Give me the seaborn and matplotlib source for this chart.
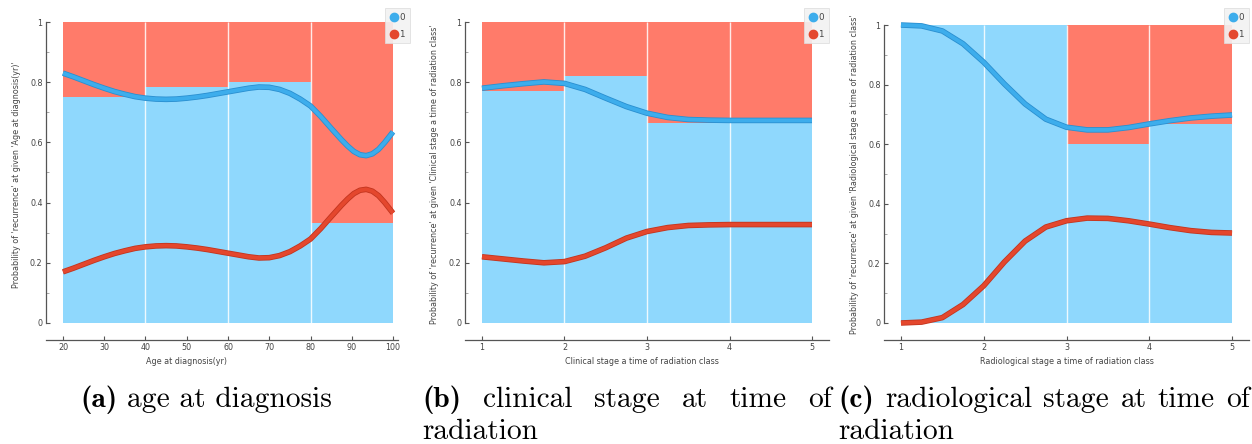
import numpy as np
import matplotlib
matplotlib.use("Agg")
import matplotlib.pyplot as plt
import matplotlib.patheffects as pe
from matplotlib.lines import Line2D
import seaborn as sns

# ---------------- data ----------------
# panel (a): age at diagnosis
a_edges = [20, 40, 60, 80, 100]
a_p0 = [0.75, 0.785, 0.80, 0.333]
a_x = [20, 22.5, 25, 27.5, 30, 32.5, 35, 37.5, 40, 42.5, 45, 47.5, 50, 52.5, 55,
       57.5, 60, 62.5, 65, 67.5, 70, 72.5, 75, 77.5, 80, 82.5, 85, 87.5, 89, 90.5,
       92, 93.5, 95, 96.5, 98, 100]
a_c0 = [0.830, 0.818, 0.805, 0.792, 0.780, 0.769, 0.760, 0.752, 0.747, 0.744,
        0.743, 0.744, 0.747, 0.751, 0.756, 0.762, 0.768, 0.774, 0.780, 0.784,
        0.783, 0.776, 0.763, 0.744, 0.721, 0.686, 0.647, 0.609, 0.588, 0.570,
        0.559, 0.556, 0.562, 0.577, 0.600, 0.635]
a_c1 = [0.170, 0.182, 0.195, 0.208, 0.220, 0.231, 0.240, 0.248, 0.253, 0.256,
        0.257, 0.256, 0.253, 0.249, 0.244, 0.238, 0.232, 0.226, 0.220, 0.216,
        0.217, 0.224, 0.237, 0.256, 0.279, 0.314, 0.353, 0.391, 0.412, 0.430,
        0.441, 0.444, 0.438, 0.423, 0.400, 0.365]

# panel (b): clinical stage
b_edges = [1, 2, 3, 4, 5]
b_p0 = [0.770, 0.819, 0.666, 0.666]
b_x = [1.0, 1.25, 1.5, 1.75, 2.0, 2.25, 2.5, 2.75, 3.0, 3.25, 3.5, 3.75, 4.0,
       4.25, 4.5, 4.75, 5.0]
b_c0 = [0.780, 0.788, 0.795, 0.801, 0.796, 0.776, 0.747, 0.719, 0.697, 0.683,
        0.676, 0.674, 0.673, 0.673, 0.673, 0.673, 0.673]
b_c1 = [0.220, 0.213, 0.206, 0.200, 0.204, 0.222, 0.250, 0.282, 0.304, 0.317,
        0.324, 0.326, 0.327, 0.327, 0.327, 0.327, 0.327]

# panel (c): radiological stage
c_edges = [1, 2, 3, 4, 5]
c_p0 = [1.0, 1.0, 0.601, 0.667]
c_x = [1.0, 1.25, 1.5, 1.75, 2.0, 2.25, 2.5, 2.75, 3.0, 3.25, 3.5, 3.75, 4.0,
       4.25, 4.5, 4.75, 5.0]
c_c0 = [1.000, 0.997, 0.980, 0.937, 0.875, 0.802, 0.735, 0.684, 0.657, 0.648,
        0.648, 0.656, 0.668, 0.679, 0.688, 0.694, 0.698]
c_c1 = [0.000, 0.003, 0.018, 0.062, 0.125, 0.205, 0.275, 0.322, 0.343, 0.352,
        0.351, 0.343, 0.332, 0.320, 0.310, 0.304, 0.302]

a_xticks = [20, 30, 40, 50, 60, 70, 80, 90, 100]
bc_xticks = [1, 2, 3, 4, 5]
y_ticks = [0, 0.2, 0.4, 0.6, 0.8, 1]
y_ticklabels = ["0", "0.2", "0.4", "0.6", "0.8", "1"]
legend_labels = ["0", "1"]

xlabels = ["Age at diagnosis(yr)",
           "Clinical stage a time of radiation class",
           "Radiological stage a time of radiation class"]
ylabels = ["Probability of 'recurrence' at given 'Age at diagnosis(yr)'",
           "Probability of 'recurrence' at given 'Clinical stage a time of radiation class'",
           "Probability of 'recurrence' at given 'Radiological stage a time of radiation class'"]

caption_tags = ["(a)", "(b)", "(c)"]
caption_line1 = ["age at diagnosis", "clinical stage at time of",
                 "radiological stage at time of"]
caption_line2 = ["", "radiation", "radiation"]

# ---------------- style ----------------
sns.set_theme(style="white")
plt.rcParams["font.family"] = ["DejaVu Sans"]

BAR_BLUE = "#8fd8fd"
BAR_RED = "#ff7b6a"
LINE_BLUE = "#3dadec"
EDGE_BLUE = "#2a8fd0"
LINE_RED = "#e4472d"
EDGE_RED = "#c2351f"
AX_COL = "#555555"
TXT_COL = "#444444"

W, H = 1252, 444
fig = plt.figure(figsize=(W / 100, H / 100), dpi=100)


def px_axes(left, right, top, bottom):
    return fig.add_axes([left / W, 1 - bottom / H, (right - left) / W, (bottom - top) / H])


panels = [
    dict(edges=a_edges, p0=a_p0, x=a_x, c0=a_c0, c1=a_c1, xticks=a_xticks,
         box=(46, 398, 15, 340), xlim=(15.88, 101.21), ylim=(-17 / 301, 1 + 7 / 301),
         legend_px=(385, 8), xlabel_x=0.40, ylabel_x=-0.071),
    dict(edges=b_edges, p0=b_p0, x=b_x, c0=b_c0, c1=b_c1, xticks=bc_xticks,
         box=(465, 829, 15, 340), xlim=(0.794, 5.206), ylim=(-17 / 301, 1 + 7 / 301),
         legend_px=(804, 8), xlabel_x=0.485, ylabel_x=-0.071),
    dict(edges=c_edges, p0=c_p0, x=c_x, c0=c_c0, c1=c_c1, xticks=bc_xticks,
         box=(884, 1249, 15, 340), xlim=(0.795, 5.205), ylim=(-17 / 298, 1 + 10 / 298),
         legend_px=(1224, 8), xlabel_x=0.50, ylabel_x=-0.068),
]

for i, p in enumerate(panels):
    ax = px_axes(*p["box"])
    edges = np.array(p["edges"], dtype=float)
    lefts = edges[:-1]
    widths = np.diff(edges)
    p0 = np.array(p["p0"])
    ax.bar(lefts, p0, width=widths, align="edge", color=BAR_BLUE, linewidth=0, zorder=1)
    ax.bar(lefts, 1 - p0, bottom=p0, width=widths, align="edge", color=BAR_RED,
           linewidth=0, zorder=1)
    ax.vlines(edges[1:-1], 0, 1, colors="white", linewidth=1.0, alpha=0.85, zorder=2)

    sns.lineplot(x=p["x"], y=p["c0"], ax=ax, color=LINE_BLUE, linewidth=2.8,
                 solid_capstyle="butt", solid_joinstyle="round", zorder=4,
                 path_effects=[pe.Stroke(linewidth=4.0, foreground=EDGE_BLUE), pe.Normal()])
    sns.lineplot(x=p["x"], y=p["c1"], ax=ax, color=LINE_RED, linewidth=2.8,
                 solid_capstyle="butt", solid_joinstyle="round", zorder=4,
                 path_effects=[pe.Stroke(linewidth=4.0, foreground=EDGE_RED), pe.Normal()])

    ax.set_xlim(*p["xlim"])
    ax.set_ylim(*p["ylim"])
    ax.set_xticks(p["xticks"])
    ax.set_xticklabels([str(t) for t in p["xticks"]])
    ax.set_yticks(y_ticks)
    ax.set_yticklabels(y_ticklabels)
    ax.set_yticks(np.arange(0.1, 1.0, 0.2), minor=True)
    ax.tick_params(axis="both", which="major", direction="in", length=3, width=0.8,
                   color=AX_COL, labelsize=5.8, labelcolor=TXT_COL, pad=2.5)
    ax.tick_params(axis="y", which="minor", direction="in", length=2, width=0.6,
                   color="#999999", left=True)
    ax.tick_params(axis="x", which="major", bottom=True)
    ax.tick_params(axis="y", which="major", left=True)

    for s in ["top", "right"]:
        ax.spines[s].set_visible(False)
    for s in ["left", "bottom"]:
        ax.spines[s].set_color(AX_COL)
        ax.spines[s].set_linewidth(0.9)
    ax.spines["left"].set_bounds(0, 1)
    ax.set_facecolor("white")

    ax.set_xlabel(xlabels[i], fontsize=5.8, color=TXT_COL)
    ax.xaxis.set_label_coords(p["xlabel_x"], -0.053)
    ax.set_ylabel(ylabels[i], fontsize=5.8, color=TXT_COL)
    ax.yaxis.set_label_coords(p["ylabel_x"], 0.51)

    handles = [Line2D([], [], marker="o", linestyle="none", markersize=6,
                      markerfacecolor=c, markeredgecolor=c)
               for c in (LINE_BLUE, LINE_RED)]
    lx, ly = p["legend_px"]
    leg = fig.legend(handles, legend_labels, loc="upper left",
                     bbox_to_anchor=(lx / W, 1 - ly / H), bbox_transform=fig.transFigure,
                     fontsize=6.3, frameon=True, handlelength=1.0, handletextpad=0.1,
                     borderpad=0.55, labelspacing=0.9, borderaxespad=0, fancybox=False)
    leg.get_frame().set_facecolor("#f2f2f2")
    leg.get_frame().set_edgecolor("#dddddd")
    leg.get_frame().set_linewidth(0.6)
    leg.get_frame().set_alpha(0.9)
    for t in leg.get_texts():
        t.set_color(TXT_COL)

# ---------------- captions ----------------
CAP = 21.2
base1 = 1 - 407 / H
base2 = 1 - 439 / H
renderer = fig.canvas.get_renderer()


def cap(xpx, ypos, s, bold=False, ha="left"):
    return fig.text(xpx / W, ypos, s, fontsize=CAP, family="cmb10" if bold else "cmr10",
                    ha=ha, va="baseline", color="black")


def width_px(t):
    return t.get_window_extent(renderer).width


space_px = CAP * 100 / 72 * 0.333

cap_starts = [80, 422, 838]
cap_ends = [None, 832, 1250]
for k in range(3):
    x0 = cap_starts[k]
    tag = cap(x0, base1, caption_tags[k], bold=True)
    words = caption_line1[k].split(" ")
    if cap_ends[k] is None:
        cap(x0 + width_px(tag) + space_px, base1, caption_line1[k])
    else:
        # justified line: measure words, distribute spacing evenly
        objs = [cap(0, base1, w) for w in words]
        widths_w = [width_px(o) for o in objs]
        total = width_px(tag) + sum(widths_w)
        gap = (cap_ends[k] - x0 - total) / len(words)
        xc = x0 + width_px(tag) + gap
        for o, wv in zip(objs, widths_w):
            o.set_x(xc / W)
            xc += wv + gap
    if caption_line2[k]:
        cap(x0, base2, caption_line2[k])

fig.savefig("out.png", dpi=100, facecolor="white")
